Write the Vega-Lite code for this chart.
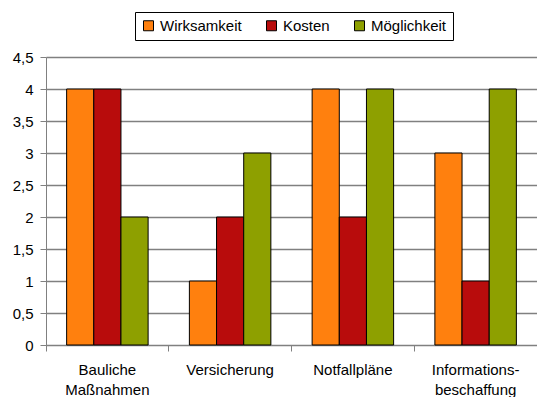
{
  "$schema": "https://vega.github.io/schema/vega-lite/v6.json",
  "autosize": {"type": "none"},
  "padding": {"left": 46, "top": 57, "right": 0, "bottom": 52},
  "width": 491,
  "height": 288,
  "background": "white",
  "data": {
    "values": [
      {"massnahme": "Bauliche Maßnahmen", "kriterium": "Wirksamkeit", "wert": 4},
      {"massnahme": "Bauliche Maßnahmen", "kriterium": "Kosten", "wert": 4},
      {"massnahme": "Bauliche Maßnahmen", "kriterium": "Möglichkeit", "wert": 2},
      {"massnahme": "Versicherung", "kriterium": "Wirksamkeit", "wert": 1},
      {"massnahme": "Versicherung", "kriterium": "Kosten", "wert": 2},
      {"massnahme": "Versicherung", "kriterium": "Möglichkeit", "wert": 3},
      {"massnahme": "Notfallpläne", "kriterium": "Wirksamkeit", "wert": 4},
      {"massnahme": "Notfallpläne", "kriterium": "Kosten", "wert": 2},
      {"massnahme": "Notfallpläne", "kriterium": "Möglichkeit", "wert": 4},
      {"massnahme": "Informationsbeschaffung", "kriterium": "Wirksamkeit", "wert": 3},
      {"massnahme": "Informationsbeschaffung", "kriterium": "Kosten", "wert": 1},
      {"massnahme": "Informationsbeschaffung", "kriterium": "Möglichkeit", "wert": 4}
    ]
  },
  "mark": {"type": "bar", "stroke": "black", "strokeWidth": 1},
  "encoding": {
    "x": {
      "field": "massnahme",
      "type": "nominal",
      "sort": null,
      "scale": {"paddingInner": 0, "paddingOuter": 0},
      "axis": {
        "title": null,
        "labelAngle": 0,
        "bandPosition": 0,
        "labelExpr": "datum.label == 'Informationsbeschaffung' ? ['Informations-', 'beschaffung'] : split(datum.label, ' ')",
        "labelLineHeight": 20,
        "labelPadding": 11,
        "labelBaseline": "top",
        "tickSize": 6,
        "domainColor": "#808080",
        "tickColor": "#808080",
        "grid": false
      }
    },
    "xOffset": {
      "field": "kriterium",
      "type": "nominal",
      "sort": ["Wirksamkeit", "Kosten", "Möglichkeit"],
      "scale": {"paddingInner": 0, "paddingOuter": 0.76}
    },
    "y": {
      "field": "wert",
      "type": "quantitative",
      "scale": {"domain": [0, 4.5], "nice": false, "zero": true},
      "axis": {
        "title": null,
        "values": [0, 0.5, 1, 1.5, 2, 2.5, 3, 3.5, 4, 4.5],
        "format": ".1~f",
        "labelExpr": "replace(datum.label, '.', ',')",
        "tickSize": 6,
        "labelPadding": 7,
        "domainColor": "#808080",
        "tickColor": "#808080",
        "gridColor": "#808080",
        "gridWidth": 1.5
      }
    },
    "color": {
      "field": "kriterium",
      "type": "nominal",
      "sort": ["Wirksamkeit", "Kosten", "Möglichkeit"],
      "scale": {
        "domain": ["Wirksamkeit", "Kosten", "Möglichkeit"],
        "range": ["#ff800e", "#b80c0c", "#8ea000"]
      },
      "legend": {
        "title": null,
        "orient": "none",
        "direction": "horizontal",
        "legendX": 89,
        "legendY": -45,
        "padding": 6,
        "strokeColor": "black",
        "fillColor": "white",
        "symbolType": "square",
        "symbolSize": 100,
        "symbolStrokeColor": "black",
        "symbolStrokeWidth": 1,
        "symbolOpacity": 1,
        "labelFontSize": 15,
        "labelOffset": 4,
        "columnPadding": 22
      }
    }
  },
  "config": {
    "font": "Liberation Sans",
    "view": {"stroke": null},
    "axis": {
      "labelFont": "Liberation Sans",
      "labelFontSize": 15,
      "labelColor": "black"
    },
    "legend": {
      "labelFont": "Liberation Sans",
      "labelColor": "black"
    }
  }
}
